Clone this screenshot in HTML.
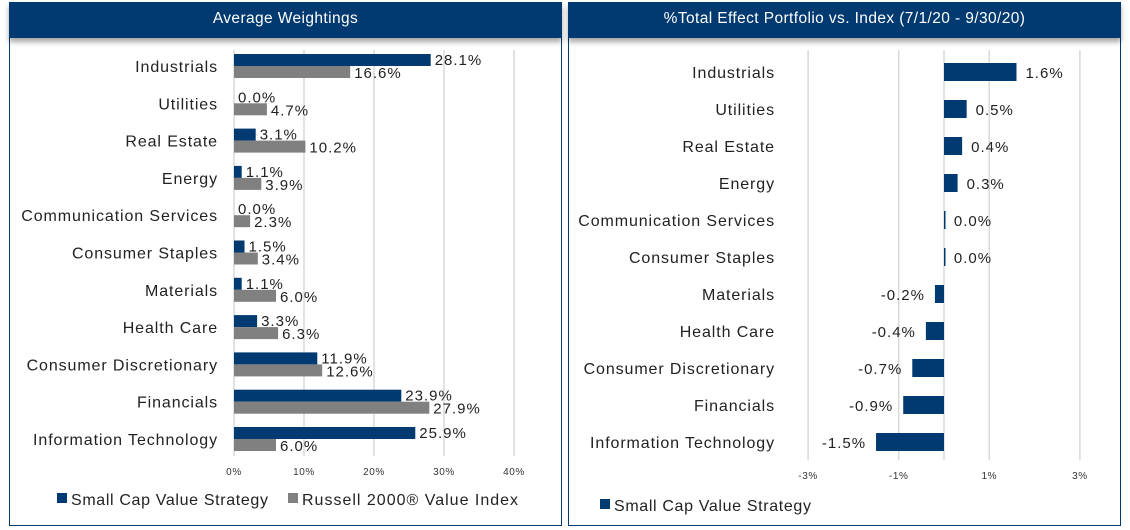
<!DOCTYPE html>
<html><head><meta charset="utf-8"><style>
body{margin:0;width:1130px;height:530px;background:#fff;overflow:hidden;font-family:"Liberation Sans",sans-serif}
.panel{position:absolute;top:2px;height:524px;border:1.5px solid #003a70;border-top:none;box-sizing:border-box}
.hdr{position:absolute;top:2px;height:36px;background:#003a70;color:#fff;font-size:15.5px;letter-spacing:0.4px;text-align:center;line-height:33px;box-shadow:0 4px 5px rgba(0,0,0,0.35)}
</style></head><body>
<div class="panel" style="left:9px;width:553px"></div>
<div class="panel" style="left:568px;width:553px"></div>
<svg id="c" width="1130" height="530" style="position:absolute;left:0;top:0"></svg>
<div class="hdr" style="left:9px;width:553px">Average Weightings</div>
<div class="hdr" style="left:568px;width:553px">%Total Effect Portfolio vs. Index (7/1/20 - 9/30/20)</div>
<script>
const categories=["Industrials","Utilities","Real Estate","Energy","Communication Services","Consumer Staples","Materials","Health Care","Consumer Discretionary","Financials","Information Technology"];
const strategyWeights=[28.1,0.0,3.1,1.1,0.0,1.5,1.1,3.3,11.9,23.9,25.9];
const indexWeights=[16.6,4.7,10.2,3.9,2.3,3.4,6.0,6.3,12.6,27.9,6.0];
const leftTicks=[0,10,20,30,40];
const totalEffect=[1.6,0.5,0.4,0.3,0.02,0.02,-0.2,-0.4,-0.7,-0.9,-1.5];
const effectLabels=["1.6%","0.5%","0.4%","0.3%","0.0%","0.0%","-0.2%","-0.4%","-0.7%","-0.9%","-1.5%"];
const rightTicks=[-3,-1,1,3];
const svg=document.getElementById('c');
const NS="http://www.w3.org/2000/svg";
function mk(t,a,txt){const e=document.createElementNS(NS,t);for(const k in a)e.setAttribute(k,a[k]);if(txt!==undefined)e.textContent=txt;svg.appendChild(e);return e;}
const LS={'letter-spacing':'0.9'};
// left chart
const lx=v=>234+v*7;
const ly=i=>66+i*37.3;
leftTicks.forEach(t=>{
 const g=mk('line',{x1:lx(t),x2:lx(t),y1:50,y2:456,stroke:'#d9d9d9','stroke-width':1.5});
 
 const l=mk('text',{x:lx(t),y:475,'font-size':10,'letter-spacing':0.6,'text-anchor':'middle',fill:'#333'},t+'%');
 
});
categories.forEach((c,i)=>{
 const y=ly(i);
 const t=mk('text',{x:218,y:y+6,'font-size':16,'letter-spacing':0.9,'text-anchor':'end',fill:'#222'},c);
 
 const b1=mk('rect',{x:lx(0),y:y-12,width:Math.max(strategyWeights[i]*7,0),height:12,fill:'#003a70'});
 
 const b2=mk('rect',{x:lx(0),y:y,width:indexWeights[i]*7,height:12,fill:'#808080'});
 
 const v1=mk('text',{x:lx(strategyWeights[i])+4,y:y-1,'font-size':15,'letter-spacing':1,fill:'#222'},strategyWeights[i].toFixed(1)+'%');
 
 const v2=mk('text',{x:lx(indexWeights[i])+4,y:y+12,'font-size':15,'letter-spacing':1,fill:'#222'},indexWeights[i].toFixed(1)+'%');
 
});
let r=mk('rect',{x:57,y:493,width:10,height:10,fill:'#003a70'});
let tl=mk('text',{x:71,y:505,'font-size':16,'letter-spacing':0.65,fill:'#222'},'Small Cap Value Strategy');
r=mk('rect',{x:288,y:493,width:10,height:10,fill:'#808080'});
tl=mk('text',{x:302,y:505,'font-size':16,'letter-spacing':1,fill:'#222'},'Russell 2000® Value Index');
// right chart
const rx=v=>944+v*45.3;
const ry=i=>72+i*37;
rightTicks.forEach(t=>{
 const g=mk('line',{x1:rx(t),x2:rx(t),y1:50,y2:460,stroke:'#d9d9d9','stroke-width':1.5});
 
 const l=mk('text',{x:rx(t),y:479,'font-size':10,'letter-spacing':0.6,'text-anchor':'middle',fill:'#333'},t+'%');
 
});
let z=mk('line',{x1:rx(0),x2:rx(0),y1:50,y2:460,stroke:'#d9d9d9','stroke-width':1.5});
categories.forEach((c,i)=>{
 const y=ry(i),v=totalEffect[i];
 const t=mk('text',{x:775,y:y+6,'font-size':16,'letter-spacing':0.9,'text-anchor':'end',fill:'#222'},c);
 
 const x0=Math.min(rx(0),rx(v)),w=Math.abs(rx(v)-rx(0));
 const b=mk('rect',{x:x0,y:y-9,width:Math.max(w,1.5),height:18,fill:'#003a70'});
 
 const lab=v>=0?mk('text',{x:rx(Math.max(v,0))+9,y:y+6,'font-size':15,'letter-spacing':1,fill:'#222'},effectLabels[i]):mk('text',{x:rx(v)-10,y:y+6,'font-size':15,'letter-spacing':1,'text-anchor':'end',fill:'#222'},effectLabels[i]);
 
});
r=mk('rect',{x:600,y:499,width:10,height:10,fill:'#003a70'});
tl=mk('text',{x:614,y:511,'font-size':16,'letter-spacing':0.65,fill:'#222'},'Small Cap Value Strategy');
</script>
</body></html>
